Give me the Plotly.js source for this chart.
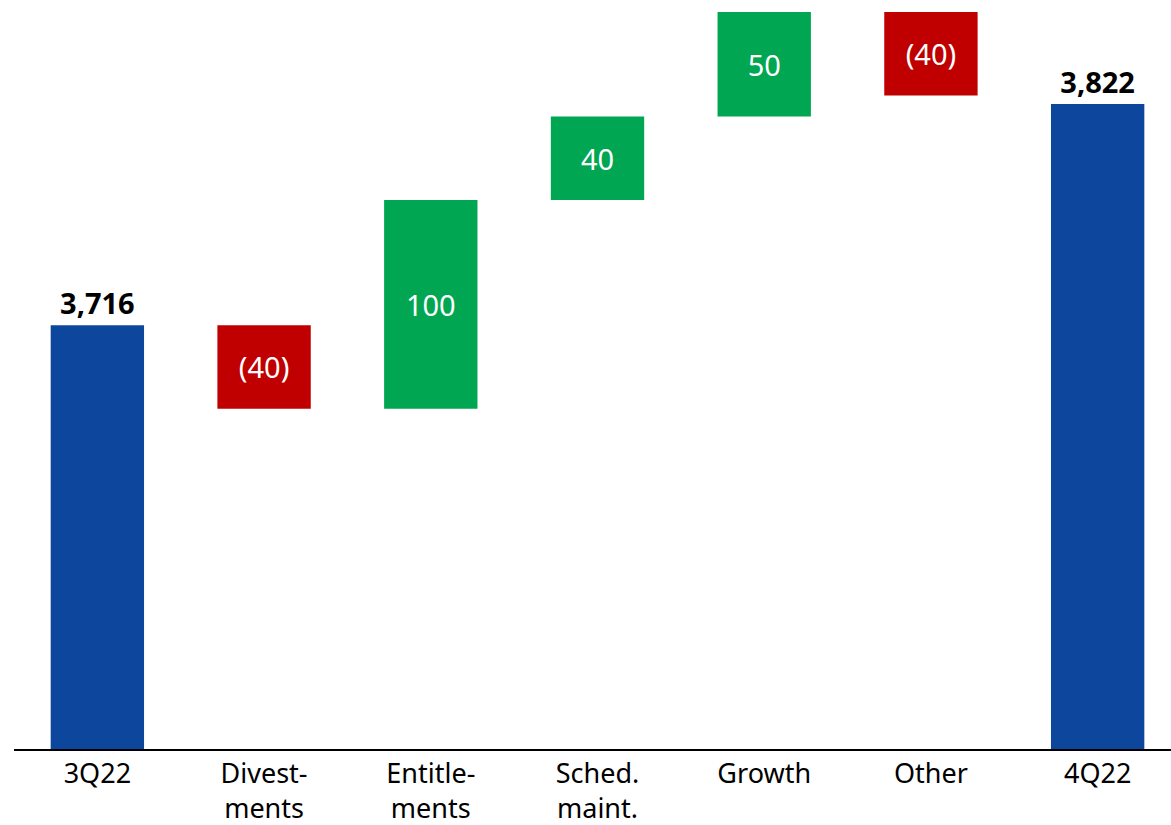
<!DOCTYPE html>
<html>
<head>
<meta charset="utf-8">
<script src="https://cdn.plot.ly/plotly-3.0.1.min.js"></script>
<style>html,body{margin:0;padding:0;background:#fff;}#chart{width:1171px;height:825px;}</style>
</head>
<body>
<div id="chart"></div>
<script>
const categories = ["3Q22", "Divest-<br>ments", "Entitle-<br>ments", "Sched.<br>maint.", "Growth", "Other", "4Q22"];
const measures = ["absolute", "relative", "relative", "relative", "relative", "relative", "absolute"];
const values = [3716, -40, 100, 40, 50, -40, 3822];
const labels = ["<b>3,716</b>", "(40)", "100", "40", "50", "(40)", "<b>3,822</b>"];
const labelPositions = ["outside", "inside", "inside", "inside", "inside", "inside", "outside"];

const trace = {
  type: "waterfall",
  x: categories,
  measure: measures,
  y: values,
  text: labels,
  textposition: labelPositions,
  texttemplate: "%{text}",
  insidetextfont: {color: "#ffffff", size: 29, family: "Noto Sans"},
  outsidetextfont: {color: "#000000", size: 29, family: "Noto Sans"},
  insidetextanchor: "middle",
  constraintext: "none",
  cliponaxis: false,
  width: 0.56,
  connector: {visible: false},
  increasing: {marker: {color: "#00A651"}},
  decreasing: {marker: {color: "#C00000"}},
  totals: {marker: {color: "#0D479D"}},
  hoverinfo: "none"
};

const layout = {
  width: 1171,
  height: 825,
  margin: {l: 14, r: 0, t: 10, b: 76},
  paper_bgcolor: "#ffffff",
  plot_bgcolor: "#ffffff",
  showlegend: false,
  font: {family: "Noto Sans", color: "#000000"},
  xaxis: {
    type: "category",
    range: [-0.5, 6.44],
    showline: true,
    linecolor: "#000000",
    linewidth: 1.5,
    ticks: "",
    showgrid: false,
    zeroline: false,
    tickfont: {size: 27, family: "Noto Sans", color: "#000000"}
  },
  yaxis: {
    range: [3513, 3867],
    visible: false,
    showgrid: false,
    zeroline: false
  }
};

Plotly.newPlot("chart", [trace], layout, {displayModeBar: false, staticPlot: true});
</script>
</body>
</html>
